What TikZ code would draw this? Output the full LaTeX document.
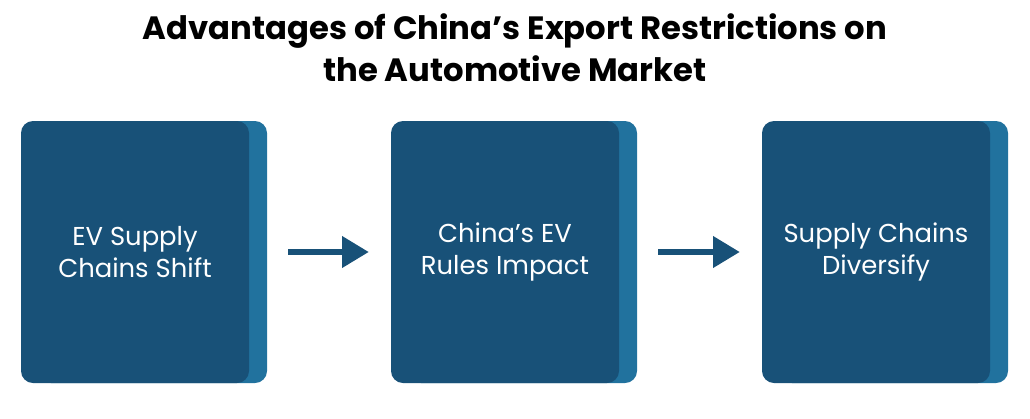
\documentclass[tikz,border=0pt]{standalone}
\usepackage{fontspec}
\setmainfont{Poppins}
\usetikzlibrary{arrows.meta}
\definecolor{frontblue}{RGB}{24,81,120}
\definecolor{backblue}{RGB}{33,114,158}
\begin{document}
\begin{tikzpicture}[x=0.75pt, y=-0.75pt,
    card/.style={rectangle, rounded corners=9pt, fill=frontblue, minimum width=171pt, minimum height=196.5pt, inner sep=0pt, text=white, align=center, font=\fontsize{19.4}{24}\selectfont},
    cardback/.style={rectangle, rounded corners=9pt, fill=backblue, minimum width=171pt, minimum height=196.5pt, inner sep=0pt},
    flow/.style={draw=frontblue, line width=3.8pt, -{Triangle[length=20pt,width=23pt]}, shorten <=29.25pt, shorten >=16.5pt}]
                \useasboundingbox (0,0) rectangle (1030,418);
                \node[align=center, font=\fontsize{24.2}{31.5}\selectfont\bfseries] (title) at (515,48) {Advantages of China’s Export Restrictions on\\the Automotive Market};
                % back cards
                \foreach \x in {153,523,894} {
                    \node[cardback] at (\x,252) {};
                }
                \node[card] (b1) at (135,252) {EV Supply\\Chains Shift};
                \node[card] (b2) at (505,252) {China’s EV\\Rules Impact};
                \node[card] (b3) at (876,252) {Supply Chains\\Diversify};
                \draw[flow] (b1) -- (b2);
                \draw[flow] (b2) -- (b3);
            \end{tikzpicture}
\end{document}
